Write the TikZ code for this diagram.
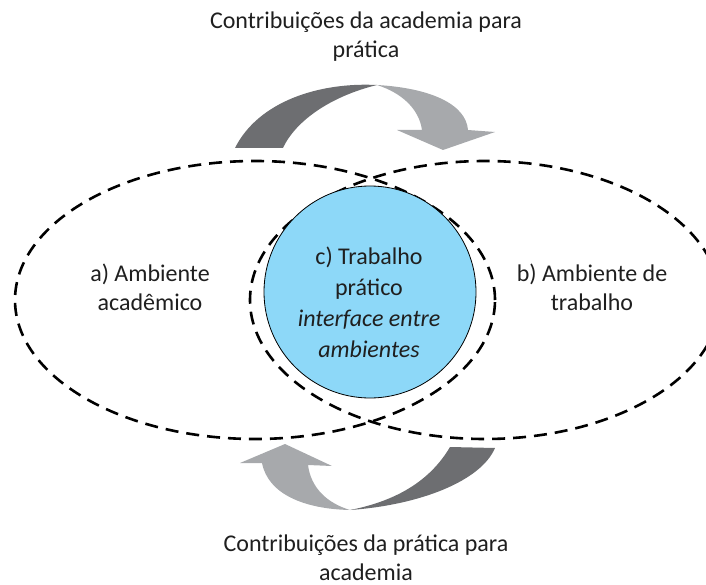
\documentclass[tikz,border=0pt]{standalone}
\usepackage{fontspec}
\setmainfont{Carlito}
\usetikzlibrary{shapes.geometric,positioning}
\definecolor{arrowdark}{HTML}{6D6E71}
\definecolor{arrowlight}{HTML}{A7A9AC}
\definecolor{circleblue}{HTML}{8DD8F8}

\begin{document}
\begin{tikzpicture}[x=1pt, y=-1pt,
    envir/.style={ellipse, draw, dash pattern=on 13pt off 8pt, line width=2.6pt, inner sep=0pt},
    txt/.style={align=center, font=\fontsize{24}{29}\selectfont, text=black!88},
  ]
      \useasboundingbox (0,0) rectangle (706,585);

      % the two environments
      \node[envir, minimum width=480pt, minimum height=278pt] (academia) at (255,300) {};
      \node[envir, minimum width=470pt, minimum height=278pt] (trabalho) at (485,300) {};

      % practical work in the middle
      \node[circle, draw, line width=0.8pt, fill=circleblue, minimum size=212pt, inner sep=0pt] (pratico) at (370,292) {};

      \node[txt, font=\fontsize{24}{31}\selectfont] (pratText) at (369,302) {c) Trabalho\\prático\\\textit{interface entre}\\\textit{ambientes}};
      \node[txt] (acadText) at (150,287) {a) Ambiente\\acadêmico};
      \node[txt] (trabText) at (592,287) {b) Ambiente de\\trabalho};

      \node[txt] (topText) at (366,37) {Contribuições da academia para\\prática};
      \node[txt, inner sep=0pt] (botText) at (366,558) {Contribuições da prática para\\academia};

      % upper arrow: academia -> pratica
      \fill[arrowdark] (235,148) .. controls (258,102) and (318,82) .. (377,85)
        .. controls (332,96) and (296,120) .. (283,148) -- cycle;
      \fill[arrowlight] (377,85) .. controls (430,88) and (466,104) .. (468,130)
        -- (495,132) -- (443,150) -- (397,130) -- (422,130)
        .. controls (419,109) and (402,93) .. (377,85) -- cycle;

      % lower arrow: pratica -> academia
      \fill[arrowlight] (285,444) -- (332,466) -- (308,465)
        .. controls (311,488) and (327,503) .. (350,510)
        .. controls (304,509) and (268,494) .. (262,463) -- (240,463) -- cycle;
      \fill[arrowdark] (350,510) .. controls (420,505) and (481,481) .. (495,448)
        -- (450,447) .. controls (430,481) and (396,501) .. (350,510) -- cycle;

\end{tikzpicture}
\end{document}
